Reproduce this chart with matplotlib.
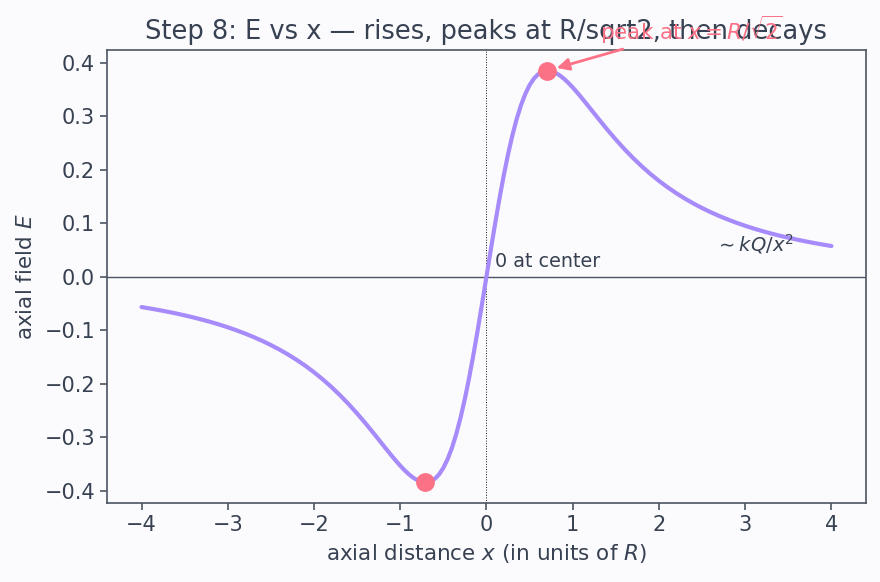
import matplotlib
matplotlib.use("Agg")
import matplotlib.pyplot as plt

x_vals = [-4.0, -3.9, -3.8, -3.7, -3.6, -3.5, -3.4, -3.3, -3.2, -3.1,
          -3.0, -2.9, -2.8, -2.7, -2.6, -2.5, -2.4, -2.3, -2.2, -2.1,
          -2.0, -1.9, -1.8, -1.7, -1.6, -1.5, -1.4, -1.3, -1.2,
          -1.15, -1.1, -1.05, -1.0, -0.95, -0.9, -0.85, -0.8, -0.75, -0.7, -0.65, -0.6, -0.55,
          -0.5, -0.45, -0.4, -0.35, -0.3, -0.25, -0.2, -0.15, -0.1, -0.05,
          0.0, 0.05, 0.1, 0.15, 0.2, 0.25, 0.3, 0.35, 0.4, 0.45,
          0.5, 0.55, 0.6, 0.65, 0.7, 0.75, 0.8, 0.85, 0.9, 0.95,
          1.0, 1.05, 1.1, 1.15, 1.2, 1.3, 1.4, 1.5, 1.6, 1.7, 1.8, 1.9,
          2.0, 2.1, 2.2, 2.3, 2.4, 2.5, 2.6, 2.7, 2.8, 2.9,
          3.0, 3.1, 3.2, 3.3, 3.4, 3.5, 3.6, 3.7, 3.8, 3.9, 4.0]
E_vals = [-0.05707, -0.05976, -0.06263, -0.06572, -0.06902, -0.07257, -0.07638, -0.08049, -0.08492, -0.08967,
          -0.09487, -0.10047, -0.10653, -0.11312, -0.12028, -0.12807, -0.13655, -0.14580, -0.15589, -0.16689,
          -0.17889, -0.19196, -0.20617, -0.22158, -0.23820, -0.25602, -0.27491, -0.29466, -0.31484,
          -0.32491, -0.33481, -0.34442, -0.35355, -0.36202, -0.36959, -0.37599, -0.38091, -0.38400, -0.38487, -0.38312, -0.37831, -0.36999,
          -0.35777, -0.34126, -0.32016, -0.29430, -0.26362, -0.22827, -0.18857, -0.14508, -0.09852, -0.04981,
          0.0, 0.04981, 0.09852, 0.14508, 0.18857, 0.22827, 0.26362, 0.29430, 0.32016, 0.34126,
          0.35777, 0.36999, 0.37831, 0.38312, 0.38487, 0.38400, 0.38091, 0.37599, 0.36959, 0.36202,
          0.35355, 0.34442, 0.33481, 0.32491, 0.31484, 0.29466, 0.27491, 0.25602, 0.23820, 0.22158, 0.20617, 0.19196,
          0.17889, 0.16689, 0.15589, 0.14580, 0.13655, 0.12807, 0.12028, 0.11312, 0.10653, 0.10047,
          0.09487, 0.08967, 0.08492, 0.08049, 0.07638, 0.07257, 0.06902, 0.06572, 0.06263, 0.05976, 0.05707]
peak_x = [-0.7071, 0.7071]
peak_E = [-0.3849, 0.3849]

bg = "#fbfbfe"
txt = "#374151"
spine = "#4b5563"
line_c = "#a78bfa"
pk_c = "#fb7185"

fig = plt.figure(figsize=(8.8, 5.82), dpi=100, facecolor=bg)
ax = fig.add_axes([0.1216, 0.1357, 0.8624, 0.7783], facecolor=bg)

ax.plot(x_vals, E_vals, color=line_c, lw=3, solid_capstyle="round", solid_joinstyle="round", zorder=3)
ax.plot(peak_x, peak_E, "o", color=pk_c, ms=12.5, zorder=4)
ax.axhline(0, color=spine, lw=1, zorder=2)
ax.axvline(0, color="#111111", lw=0.7, ls=":", zorder=2)

ax.annotate(r"peak at $x=R/\sqrt{2}$", xy=(peak_x[1], peak_E[1]), xytext=(1.32, 0.443),
            color=pk_c, fontsize=15.5, ha="left", va="baseline",
            arrowprops=dict(arrowstyle="-|>", color=pk_c, lw=2, mutation_scale=18, shrinkA=2, shrinkB=7),
            annotation_clip=False, zorder=5)
ax.text(0.1, 0.017, "0 at center", color=txt, fontsize=13.8)
ax.text(2.65, 0.048, r"$\sim kQ/x^2$", color=txt, fontsize=14)

ax.set_xlim(-4.4, 4.4)
ax.set_ylim(-0.4234, 0.4234)
ax.set_title(r"Step 8: E vs x — rises, peaks at R/sqrt2, then decays", color=txt, fontsize=18.5, pad=8)
ax.set_xlabel(r"axial distance $x$ (in units of $R$)", color=txt, fontsize=15.5, labelpad=5)
ax.set_ylabel(r"axial field $E$", color=txt, fontsize=15.5, labelpad=6)
ax.tick_params(colors=spine, labelcolor=txt, labelsize=15, length=5, width=1.2)
for s in ax.spines.values():
    s.set_color(spine)
    s.set_linewidth(1.2)

fig.savefig("out.png", dpi=100, facecolor=bg)
